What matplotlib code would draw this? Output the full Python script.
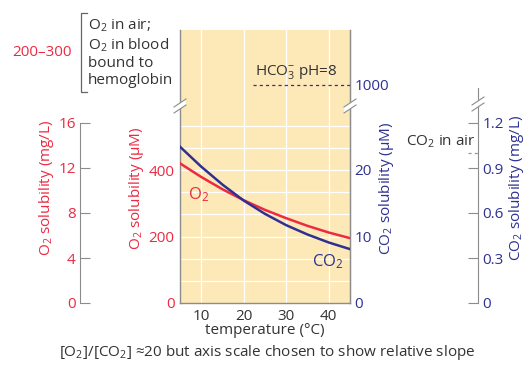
import matplotlib.pyplot as plt
from matplotlib.patches import Polygon

plt.rcParams['font.family'] = ['Open Sans', 'DejaVu Sans']
plt.rcParams['mathtext.fontset'] = 'custom'
plt.rcParams['mathtext.rm'] = 'Open Sans'
plt.rcParams['mathtext.it'] = 'Open Sans:italic'
plt.rcParams['mathtext.default'] = 'regular'

# data
temps = [5, 10, 15, 20, 25, 30, 35, 40, 45]
o2_um = [420, 379, 342, 309, 280, 255, 232, 212, 195]
co2_um = [23.5, 20.5, 17.8, 15.4, 13.4, 11.7, 10.3, 9.1, 8.1]

o2_um_ticks = [0, 200, 400]
co2_um_ticks = [0, 10, 20]
o2_mgl_ticks = [0, 4, 8, 12, 16]
co2_mgl_ticks = [0, 0.3, 0.6, 0.9, 1.2]
temp_ticks = [10, 20, 30, 40]
hco3_level = 1000        # shown above the axis break
co2_air_mgl = 1.0

RED = '#ec2a42'
BLUE = '#2e3192'
GRAY = '#8c8c8c'
YELLOW = '#fde9b8'
TXT = '#333333'
FS = 11

W, H = 525, 372
fig = plt.figure(figsize=(W / 100, H / 100), dpi=100)


def px_box(x0, y0, x1, y1):
    # pixel box (top-left origin) -> figure fraction rect
    return [x0 / W, (H - y1) / H, (x1 - x0) / W, (y1 - y0) / H]


# main plot, y in O2 uM units, 0.3325 px per uM
scale = 0.3325
top_px, bot_px = 30, 303
ymax = (bot_px - top_px) / scale
ax = fig.add_axes(px_box(180, top_px, 350, bot_px))
ax.set_facecolor(YELLOW)
ax.set_xlim(5, 45)
ax.set_ylim(0, ymax)
for v in temp_ticks:
    ax.axvline(v, color='white', lw=0.9, zorder=1)
step = 200 / 3
k = 1
while k * step < 560:
    ax.axhline(k * step, color='white', lw=0.9, zorder=1)
    k += 1
ax.plot(temps, o2_um, color=RED, lw=1.8, zorder=3)
ax.set_xticks(temp_ticks)
ax.set_yticks(o2_um_ticks)
ax.tick_params(axis='x', length=0, pad=4, labelsize=FS, labelcolor=TXT)
ax.tick_params(axis='y', length=0, pad=4, labelsize=FS, labelcolor=RED)
ax.spines['top'].set_visible(False)
for s in ['left', 'right', 'bottom']:
    ax.spines[s].set_color(GRAY)
    ax.spines[s].set_linewidth(1.0)
ax.text(9.3, 325, 'O$_2$', color=RED, fontsize=FS + 1, ha='center', va='center')

ax2 = ax.twinx()
ax2.set_ylim(0, ymax / 20)
ax2.plot(temps, co2_um, color=BLUE, lw=1.8, zorder=3)
hco3_pos = (bot_px - 85) / scale / 20
ax2.set_yticks(co2_um_ticks + [hco3_pos])
ax2.set_yticklabels([str(v) for v in co2_um_ticks] + [str(hco3_level)])
ax2.tick_params(axis='y', length=0, pad=3, labelsize=FS, labelcolor=BLUE)
ax2.spines['top'].set_visible(False)
ax2.spines['left'].set_visible(False)
ax2.spines['bottom'].set_visible(False)
ax2.spines['right'].set_color(GRAY)
ax2.plot([22.2, 45], [hco3_pos, hco3_pos], color=BLUE, lw=0.9,
         ls=(0, (2.5, 2.5)), clip_on=False)
ax2.text(39.8, 123 / 20, 'CO$_2$', color=BLUE, fontsize=FS + 1,
         ha='center', va='center')
ax2.text(32.3, (bot_px - 72) / scale / 20, 'HCO$_3^{-}$ pH=8', color=TXT,
         fontsize=FS, ha='center', va='center')

# O2 mg/L axis on far left
axl = fig.add_axes(px_box(80, 123, 90, 303))
axl.set_ylim(0, 16)
axl.set_xticks([])
axl.set_yticks(o2_mgl_ticks)
axl.patch.set_visible(False)
for s in ['top', 'right', 'bottom']:
    axl.spines[s].set_visible(False)
axl.spines['left'].set_color(GRAY)
axl.tick_params(axis='y', direction='in', length=7, color=GRAY,
                labelsize=FS, labelcolor=RED, pad=3)

# CO2 mg/L axis on far right
r_top = 88
axr = fig.add_axes(px_box(468, r_top, 478, 303))
axr.set_ylim(0, (303 - r_top) / 150)
axr.set_xticks([])
axr.patch.set_visible(False)
for s in ['top', 'left', 'bottom']:
    axr.spines[s].set_visible(False)
axr.spines['right'].set_color(GRAY)
axr.yaxis.tick_right()
axr.set_yticks(co2_mgl_ticks)
axr.set_yticklabels(['0', '0.3', '0.6', '0.9', '1.2'])
axr.tick_params(axis='y', direction='in', length=7, color=GRAY,
                labelsize=FS, labelcolor=BLUE, pad=3)
axr.plot([-5.6, 1], [co2_air_mgl, co2_air_mgl], color='#999999', lw=0.9,
         ls=(0, (2.5, 2.5)), clip_on=False)

# overlay in pixel coords for labels, bracket and break marks
ov = fig.add_axes([0, 0, 1, 1], zorder=10)
ov.set_xlim(0, W)
ov.set_ylim(H, 0)
ov.axis('off')

ov.text(47, 188, 'O$_2$ solubility (mg/L)', color=RED, fontsize=FS,
        rotation=90, ha='center', va='center')
ov.text(136, 188, 'O$_2$ solubility (\u00b5M)', color=RED, fontsize=FS,
        rotation=90, ha='center', va='center')
ov.text(386, 188, 'CO$_2$ solubility (\u00b5M)', color=BLUE, fontsize=FS,
        rotation=90, ha='center', va='center')
ov.text(516, 188, 'CO$_2$ solubility (mg/L)', color=BLUE, fontsize=FS,
        rotation=90, ha='center', va='center')
ov.text(441, 142, 'CO$_2$ in air', color=TXT, fontsize=FS,
        ha='center', va='center')
ov.text(42, 52, '200\u2013300', color=RED, fontsize=FS, ha='center', va='center')
ov.plot([87, 81, 81, 87], [13, 13, 92, 92], color='#666666', lw=0.9)
ov.text(88, 53, 'O$_2$ in air;\nO$_2$ in blood\nbound to\nhemoglobin',
        color=TXT, fontsize=FS, ha='left', va='center', linespacing=1.18)
ov.text(265, 331, 'temperature (\u00b0C)', color=TXT, fontsize=FS,
        ha='center', va='center')
ov.text(267, 353, '[O$_2$]/[CO$_2$] \u224820 but axis scale chosen to show relative slope',
        color=TXT, fontsize=FS, ha='center', va='center')


def brk(x, y):
    p = [(x - 6, y + 3), (x + 6, y - 5), (x + 6, y + 1), (x - 6, y + 9)]
    ov.add_patch(Polygon(p, closed=True, fc='white', ec='none'))
    ov.plot([x - 6, x + 6], [y + 3, y - 5], color=GRAY, lw=0.8)
    ov.plot([x - 6, x + 6], [y + 9, y + 1], color=GRAY, lw=0.8)


brk(180, 104)
brk(350, 104)
brk(478, 102)

fig.savefig('out.png', dpi=100)
